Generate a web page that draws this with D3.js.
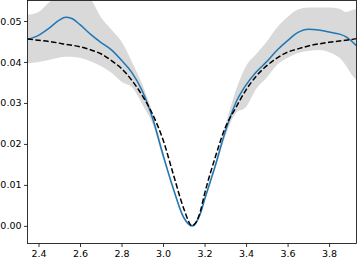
<!DOCTYPE html>
<html><head><meta charset="utf-8">
<script src="https://cdn.jsdelivr.net/npm/d3@7"></script>
<style>body{margin:0;background:#fff}svg{display:block}text{font-family:"DejaVu Sans";font-size:9.5px;fill:#000}</style>
</head><body><svg id="c" width="357" height="262"></svg>
<script>
const xs = [2.347,2.40,2.45,2.50,2.53,2.56,2.60,2.65,2.70,2.75,2.80,2.85,2.90,2.95,3.00,3.05,3.10,3.14,3.18,3.20,3.25,3.30,3.35,3.40,3.45,3.50,3.55,3.60,3.65,3.70,3.75,3.80,3.85,3.88,3.91,3.932];
const meanVals = [0.0455,0.0465,0.0482,0.0502,0.0509,0.0506,0.0491,0.0468,0.0448,0.0430,0.0404,0.0374,0.0329,0.0262,0.0173,0.0090,0.0020,0.0000,0.0030,0.0064,0.0144,0.0230,0.0300,0.0344,0.0376,0.0401,0.0429,0.0452,0.0472,0.0480,0.0478,0.0473,0.0468,0.0462,0.0450,0.0440];
const refVals = [0.0456,0.0453,0.0450,0.0446,0.0443,0.0441,0.0437,0.0430,0.0420,0.0404,0.0384,0.0355,0.0318,0.0272,0.0210,0.0125,0.0042,0.0000,0.0036,0.0078,0.0165,0.0240,0.0288,0.0332,0.0366,0.0391,0.0410,0.0424,0.0432,0.0439,0.0444,0.0448,0.0451,0.0453,0.0455,0.0457];
const lowerVals = [0.0397,0.0400,0.0405,0.0411,0.0413,0.0413,0.0410,0.0402,0.0390,0.0374,0.0352,0.0338,0.0297,0.0248,0.0163,0.0083,0.0015,-0.0003,0.0025,0.0057,0.0135,0.0218,0.0275,0.0290,0.0335,0.0362,0.0393,0.0410,0.0422,0.0427,0.0429,0.0424,0.0410,0.0392,0.0368,0.0356];
const upperVals = [0.0515,0.0522,0.0545,0.0570,0.0582,0.0585,0.0576,0.0555,0.0510,0.0480,0.0450,0.0400,0.0345,0.0275,0.0183,0.0097,0.0025,0.0004,0.0035,0.0071,0.0153,0.0245,0.0330,0.0390,0.0420,0.0450,0.0485,0.0510,0.0528,0.0533,0.0533,0.0533,0.0530,0.0522,0.0526,0.0530];
const xTicks = [2.4,2.6,2.8,3.0,3.2,3.4,3.6,3.8];
const yTicks = [0.00,0.01,0.02,0.03,0.04,0.05];

const L=27.5,R=356.5,T=0.5,B=243.5;
const svg=d3.select("#c");
const x=d3.scaleLinear().domain([2.347,3.932]).range([L,R]);
const y=d3.scaleLinear().domain([-0.0043,0.0550]).range([B,T]);
svg.append("defs").append("clipPath").attr("id","clip").append("rect").attr("x",L).attr("y",T).attr("width",R-L).attr("height",B-T);
const data=xs.map((v,i)=>({x:v,m:meanVals[i],r:refVals[i],lo:lowerVals[i],hi:upperVals[i]}));
const g=svg.append("g").attr("clip-path","url(#clip)");
g.append("path").datum(data).attr("fill","#d9d9d9").attr("d",d3.area().curve(d3.curveMonotoneX).x(d=>x(d.x)).y0(d=>y(d.lo)).y1(d=>y(d.hi)));
g.append("path").datum(data).attr("fill","none").attr("stroke","#1f77b4").attr("stroke-width",1.5).attr("d",d3.line().curve(d3.curveMonotoneX).x(d=>x(d.x)).y(d=>y(d.m)));
g.append("path").datum(data).attr("fill","none").attr("stroke","#000").attr("stroke-width",1.5).attr("stroke-dasharray","5.5,2.4").attr("d",d3.line().curve(d3.curveMonotoneX).x(d=>x(d.x)).y(d=>y(d.r)));
const xa=svg.append("g").attr("transform",`translate(0,${B})`).call(d3.axisBottom(x).tickValues(xTicks).tickFormat(d3.format(".1f")).tickSize(3.5).tickPadding(3.5));
const ya=svg.append("g").attr("transform",`translate(${L},0)`).call(d3.axisLeft(y).tickValues(yTicks).tickFormat(d3.format(".2f")).tickSize(3.5).tickPadding(2.5));
[xa,ya].forEach(a=>{a.select(".domain").remove();a.selectAll("line").attr("stroke","#000").attr("stroke-width",0.8);a.selectAll("text").attr("font-family","DejaVu Sans").attr("font-size",9.5).attr("fill","#000");});
svg.append("rect").attr("x",L).attr("y",T).attr("width",R-L).attr("height",B-T).attr("fill","none").attr("stroke","#000").attr("stroke-width",0.8);
</script></body></html>
